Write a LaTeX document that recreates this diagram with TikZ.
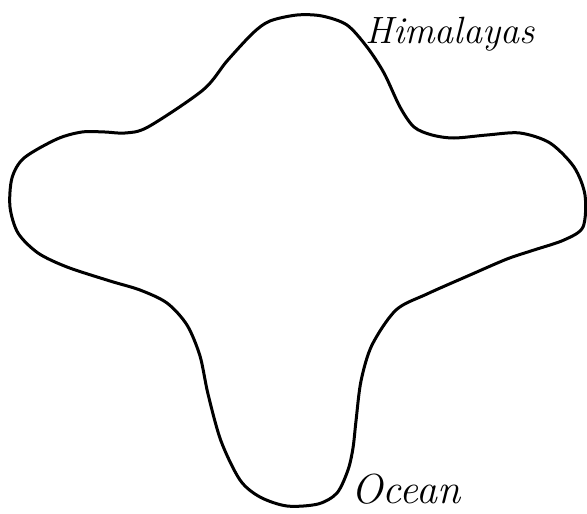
\documentclass[tikz,border=0pt]{standalone}
\begin{document}
\begin{tikzpicture}[x=1pt,y=-1pt,
  outline/.style={line width=3pt,line join=round,black},
  hand/.style={inner sep=0pt,font=\itshape}]
\useasboundingbox (0,0) rectangle (587,514);
\draw[outline] plot[smooth cycle,tension=0.5] coordinates {
(297,15) (322,16) (347,25) (367,47) (384,73) (400,107) (414,127) (432,135)
(454,138) (487,135) (520,133) (550,143) (574,167) (585,195) (583,227)
(564,240) (534,250) (507,259) (470,275) (427,294) (396,310) (372,345)
(361,381) (356,421) (353,448) (348,470) (337,493) (318,504) (287,506)
(260,497) (240,480) (221,441) (208,394) (200,356) (187,325) (167,303)
(140,290) (110,281) (67,267) (38,253) (18,233) (10,207) (12,178) (24,158)
(57,139) (82,132) (105,132) (125,133) (148,127) (203,90)
(227,61) (253,33) (270,21)};
\node[hand,anchor=base,font=\itshape\fontsize{38}{40}\selectfont] (him) at (450,43) {Himalayas};
\node[hand,anchor=base,font=\itshape\fontsize{42}{44}\selectfont] (ocean) at (406,503) {Ocean};
\end{tikzpicture}
\end{document}
